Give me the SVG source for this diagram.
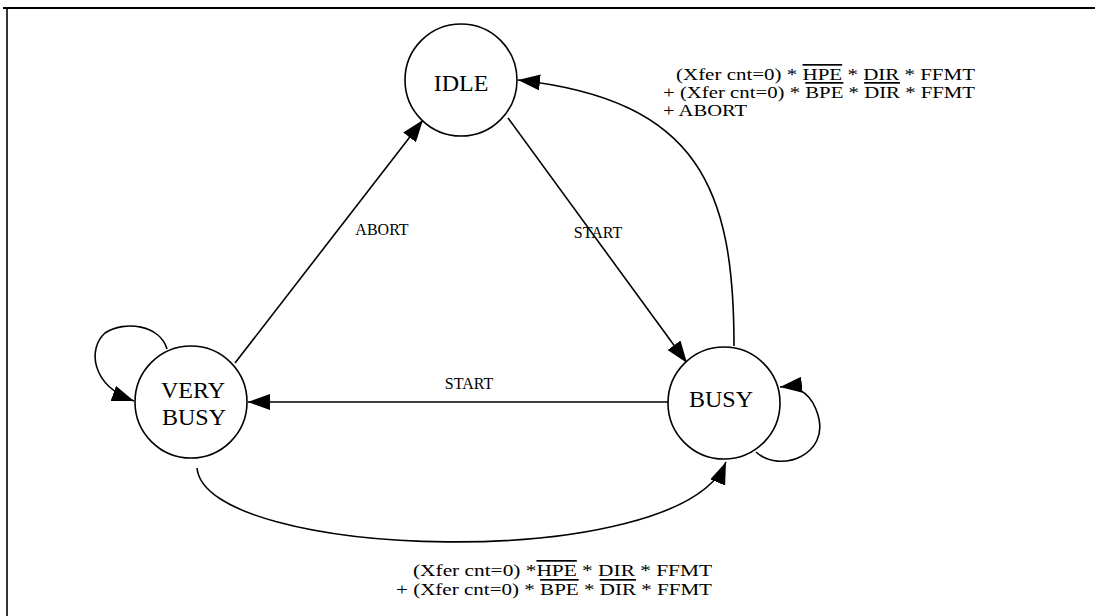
<svg xmlns="http://www.w3.org/2000/svg" width="1095" height="616" viewBox="0 0 1095 616">
<style>
.node{fill:#fff;stroke:#000;stroke-width:1.6}
.edge{fill:none;stroke:#000;stroke-width:1.6}
.nl{font-family:"Liberation Serif","Times New Roman",serif;font-size:24px;fill:#000;text-anchor:middle}
.el{font-family:"Liberation Serif","Times New Roman",serif;font-size:16px;fill:#000;text-anchor:middle}
.cond{font-family:"Liberation Serif","Times New Roman",serif;font-size:17px;fill:#000}
.ov{text-decoration:overline}
</style>
<defs>
<marker id="arr" markerUnits="userSpaceOnUse" markerWidth="24" markerHeight="18" refX="22" refY="8" orient="auto">
<path d="M0,0 L22,8 L0,16 z" fill="#000"/>
</marker>
</defs>
<rect x="0" y="0" width="1095" height="616" fill="#fff"/>
<g id="frame">
<line x1="3" y1="8" x2="1095" y2="8" stroke="#000" stroke-width="2"/>
<line x1="7" y1="8" x2="7" y2="616" stroke="#000" stroke-width="1.6"/>
</g>
<g id="connectors">
<line class="edge" x1="235" y1="363" x2="423" y2="120" marker-end="url(#arr)"/>
<line class="edge" x1="508" y1="118" x2="687" y2="363" marker-end="url(#arr)"/>
<line class="edge" x1="668" y1="402" x2="248" y2="402" marker-end="url(#arr)"/>
<path class="edge" d="M734 346 C734 190 700 100 518 80" marker-end="url(#arr)"/>
<path class="edge" d="M756 452 C780 474 830 455 818 415 C812 395 800 385 780 387" marker-end="url(#arr)"/>
<path class="edge" d="M167 349 C160 325 125 320 105 333 C88 348 90 385 134 401" marker-end="url(#arr)"/>
<path class="edge" d="M197 468 C205 560 680 575 726 462" marker-end="url(#arr)"/>
<text class="el" x="382" y="235">ABORT</text>
<text class="el" x="598" y="238">START</text>
<text class="el" x="469" y="389">START</text>
<text class="cond" x="676" y="80" textLength="299" lengthAdjust="spacingAndGlyphs">(Xfer cnt=0) * <tspan class="ov">HPE</tspan> * DIR * FFMT</text>
<text class="cond" x="663" y="98" textLength="312" lengthAdjust="spacingAndGlyphs">+ (Xfer cnt=0) * <tspan class="ov">BPE</tspan> * <tspan class="ov">DIR</tspan> * FFMT</text>
<text class="cond" x="663" y="116" textLength="84" lengthAdjust="spacingAndGlyphs">+ ABORT</text>
<text class="cond" x="413" y="576" textLength="299" lengthAdjust="spacingAndGlyphs">(Xfer cnt=0) *<tspan class="ov">HPE</tspan> * DIR * FFMT</text>
<text class="cond" x="396" y="595" textLength="316" lengthAdjust="spacingAndGlyphs">+ (Xfer cnt=0) * <tspan class="ov">BPE</tspan> * <tspan class="ov">DIR</tspan> * FFMT</text>
</g>
<g id="idle">
<circle class="node" cx="461" cy="80" r="56"/>
<text class="nl" x="461" y="91">IDLE</text>
</g>
<g id="very-busy">
<circle class="node" cx="191" cy="402" r="56"/>
<text class="nl" x="193" y="398">VERY</text>
<text class="nl" x="194" y="425">BUSY</text>
</g>
<g id="busy">
<circle class="node" cx="724" cy="403" r="56"/>
<text class="nl" x="721" y="407">BUSY</text>
</g>
</svg>
